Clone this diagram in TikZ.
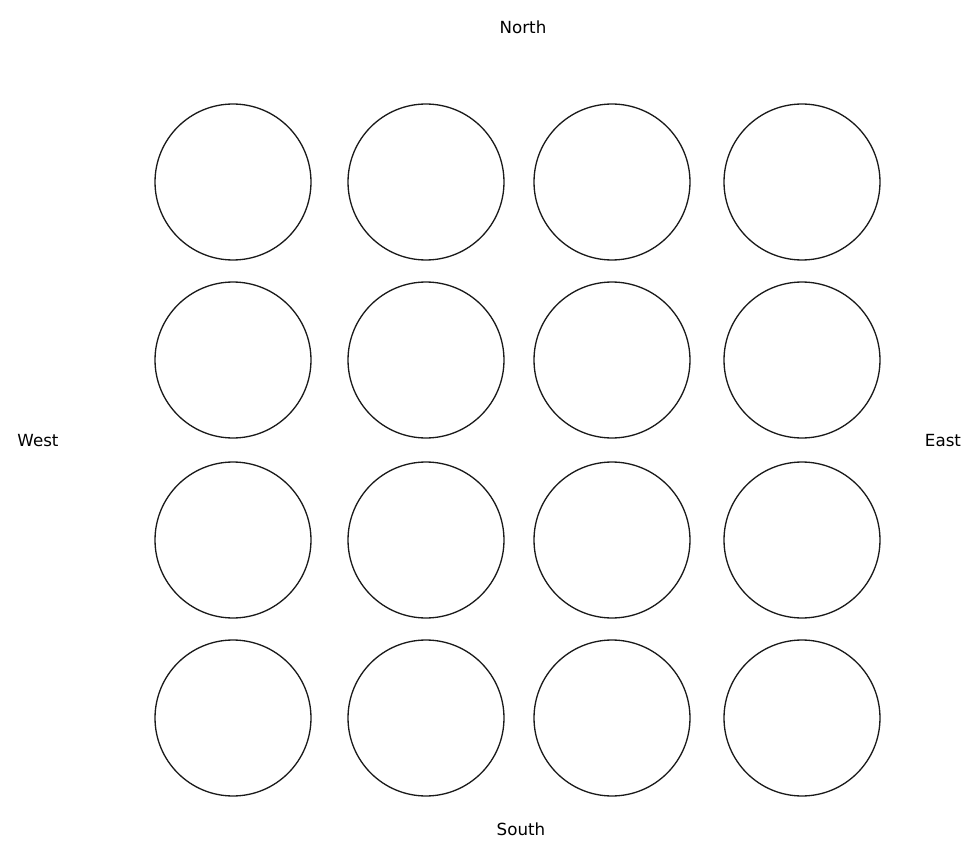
\documentclass[tikz,border=0pt]{standalone}
\usepackage{fontspec}
\setmainfont{DejaVu Sans}
\definecolor{inkline}{HTML}{1A1A1A}

\begin{document}
\begin{tikzpicture}[x=0.02cm, y=-0.02cm, font=\fontsize{9.5}{11}\selectfont,
  cell/.style={circle, draw=inkline, line width=0.75pt, minimum size=3.12cm, inner sep=0pt}]
  \useasboundingbox (0,0) rectangle (968,865);
  \foreach \row/\y in {1/182, 2/360, 3/540, 4/718}{%
    \foreach \col/\x in {1/233, 2/426, 3/612, 4/802}{%
      \node[cell] (c\row\col) at (\x,\y) {};}}
  \node (north) at (523,27) {North};
  \node (south) at (521,829) {South};
  \node (west) at (38,441) {West};
  \node (east) at (943,441) {East};
\end{tikzpicture}
\end{document}
